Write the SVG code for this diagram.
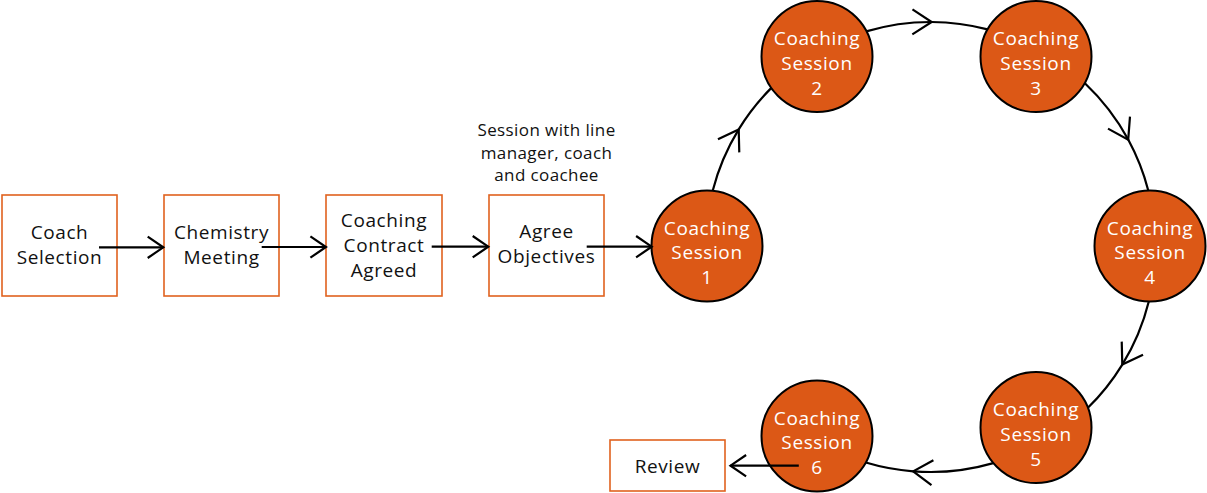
<svg xmlns="http://www.w3.org/2000/svg" width="1207" height="493" viewBox="0 0 1207 493">
<style>
.box{fill:none;stroke:#E0621F;stroke-width:1.6}
.circ{fill:#DC5816;stroke:#000;stroke-width:2}
.t{font-family:"Open Sans","Liberation Sans",sans-serif;font-size:19px;fill:#111;text-anchor:middle;letter-spacing:0.6px}
.w{fill:#fff}
.note{font-size:17px;letter-spacing:0.4px}
.ln{fill:none;stroke:#000;stroke-width:2.2}
</style>
<defs>
<marker id="ah" markerUnits="userSpaceOnUse" orient="auto" refX="0" refY="0" overflow="visible" markerWidth="20" markerHeight="20">
<path d="M-15.6,-10.7 L0,0 L-15.6,10.7" fill="none" stroke="#000" stroke-width="2.2"/>
</marker>
<marker id="ahc" markerUnits="userSpaceOnUse" orient="auto" refX="0" refY="0" overflow="visible" markerWidth="24" markerHeight="24">
<path d="M-19.3,-12.5 L0,0 L-19.3,12.5" fill="none" stroke="#000" stroke-width="2.2"/>
</marker>
</defs>
<rect width="1207" height="493" fill="#fff"/>
<g id="coach-selection">
<rect class="box" x="2" y="195" width="115" height="101"/>
<text class="t" x="59.5" y="239.3">Coach</text>
<text class="t" x="59.5" y="264">Selection</text>
</g>
<g id="chemistry-meeting">
<rect class="box" x="164" y="195" width="115" height="101"/>
<text class="t" x="221.5" y="239.3">Chemistry</text>
<text class="t" x="221.5" y="264">Meeting</text>
</g>
<g id="coaching-contract">
<rect class="box" x="326" y="195" width="116" height="101"/>
<text class="t" x="384" y="226.5">Coaching</text>
<text class="t" x="384" y="251.5">Contract</text>
<text class="t" x="384" y="276.5">Agreed</text>
</g>
<g id="agree-objectives">
<rect class="box" x="489" y="195" width="115" height="101"/>
<text class="t" x="546.5" y="238.3">Agree</text>
<text class="t" x="546.5" y="263.3">Objectives</text>
<text class="t note" x="546.5" y="136">Session with line</text>
<text class="t note" x="546.5" y="158.5">manager, coach</text>
<text class="t note" x="546.5" y="181">and coachee</text>
</g>
<g id="session-1">
<circle class="circ" cx="707" cy="246" r="55.5"/>
<text class="t w" x="707" y="234.5">Coaching</text>
<text class="t w" x="707" y="259">Session</text>
<text class="t w" x="707" y="284">1</text>
</g>
<g id="session-2">
<circle class="circ" cx="817" cy="56.5" r="55.5"/>
<text class="t w" x="817" y="45">Coaching</text>
<text class="t w" x="817" y="69.5">Session</text>
<text class="t w" x="817" y="94.5">2</text>
</g>
<g id="session-3">
<circle class="circ" cx="1036" cy="56.5" r="55.5"/>
<text class="t w" x="1036" y="45">Coaching</text>
<text class="t w" x="1036" y="69.5">Session</text>
<text class="t w" x="1036" y="94.5">3</text>
</g>
<g id="session-4">
<circle class="circ" cx="1150" cy="246" r="55.5"/>
<text class="t w" x="1150" y="234.5">Coaching</text>
<text class="t w" x="1150" y="259">Session</text>
<text class="t w" x="1150" y="284">4</text>
</g>
<g id="session-5">
<circle class="circ" cx="1036" cy="427.5" r="55.5"/>
<text class="t w" x="1036" y="416">Coaching</text>
<text class="t w" x="1036" y="440.5">Session</text>
<text class="t w" x="1036" y="465.5">5</text>
</g>
<g id="session-6">
<circle class="circ" cx="817" cy="436" r="55.5"/>
<text class="t w" x="817" y="424.5">Coaching</text>
<text class="t w" x="817" y="449">Session</text>
<text class="t w" x="817" y="474">6</text>
</g>
<g id="review">
<rect class="box" x="610" y="440" width="115" height="51"/>
<text class="t" x="667.5" y="473.3">Review</text>
</g>
<g id="connectors">
<path class="ln" d="M99,247.3 H163.3" marker-end="url(#ah)"/>
<path class="ln" d="M261.7,247 H326" marker-end="url(#ah)"/>
<path class="ln" d="M431.7,246.7 H488.3" marker-end="url(#ah)"/>
<path class="ln" d="M586.7,246.7 H651.7" marker-end="url(#ah)"/>
<path class="ln" d="M712.7,190.7 A225,225 0 0 1 738.7,129.4 A225,225 0 0 1 771.4,87.9" marker-mid="url(#ahc)"/>
<path class="ln" d="M866.2,31.4 A225,225 0 0 1 931.7,22 A225,225 0 0 1 987.6,29.4" marker-mid="url(#ahc)"/>
<path class="ln" d="M1084.9,83.3 A225,225 0 0 1 1128.2,139.6 A225,225 0 0 1 1148.2,190.3" marker-mid="url(#ahc)"/>
<path class="ln" d="M1148.8,301.4 A225,225 0 0 1 1122.3,364.6 A225,225 0 0 1 1087.9,407.8" marker-mid="url(#ahc)"/>
<path class="ln" d="M993.3,463.1 A225,225 0 0 1 913.2,471.3 A225,225 0 0 1 865.8,462.5" marker-mid="url(#ahc)"/>
<path class="ln" d="M798.8,465.7 H730.5" marker-end="url(#ah)"/>
</g>
</svg>
